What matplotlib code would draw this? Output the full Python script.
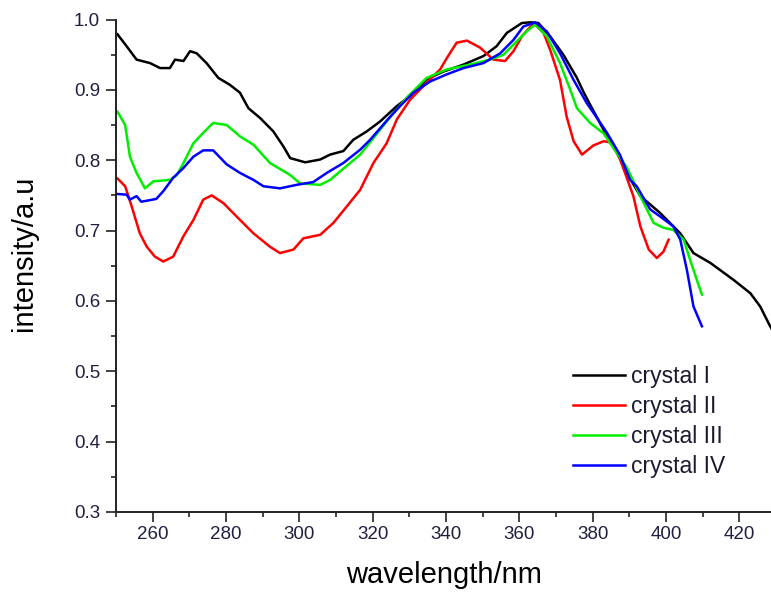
import numpy as np
import matplotlib
matplotlib.use('Agg')
import matplotlib.pyplot as plt
from matplotlib.ticker import MultipleLocator

plt.rcParams['font.family'] = ['Liberation Sans', 'DejaVu Sans']

# absorption spectra, wavelength (nm) vs normalised intensity
wl_1 = [250.4, 252.9, 255.6, 259.3, 262.0, 264.7, 266.1, 268.4, 270.2, 272.0,
        274.7, 277.9, 281.1, 283.8, 286.1, 289.3, 292.9, 295.6, 297.5, 301.6,
        305.7, 308.4, 312.0, 314.7, 318.4, 322.0, 326.6, 330.2, 334.7, 339.3,
        344.8, 350.2, 353.8, 356.6, 360.7, 363.0, 365.2, 368.4, 372.0, 375.7,
        377.5, 379.3, 383.0, 386.6, 389.3, 393.0, 398.4, 403.9, 407.5, 412.1,
        418.4, 423.0, 425.7, 428.4, 430.0]
int_1 = [0.979, 0.962, 0.943, 0.938, 0.931, 0.931, 0.943, 0.941, 0.955, 0.952,
         0.938, 0.917, 0.907, 0.896, 0.874, 0.860, 0.841, 0.820, 0.803, 0.797,
         0.801, 0.808, 0.813, 0.829, 0.841, 0.855, 0.877, 0.891, 0.915, 0.926,
         0.936, 0.948, 0.962, 0.981, 0.995, 0.996, 0.995, 0.976, 0.950, 0.917,
         0.897, 0.879, 0.843, 0.812, 0.782, 0.749, 0.725, 0.696, 0.668, 0.654,
         0.630, 0.611, 0.592, 0.564, 0.550]

wl_2 = [250.4, 252.5, 254.3, 256.5, 258.4, 260.6, 262.9, 265.6, 268.4, 271.1,
        273.8, 276.1, 279.3, 282.9, 287.5, 292.0, 294.7, 298.4, 301.1, 305.7,
        309.3, 312.9, 316.6, 320.2, 323.8, 326.6, 330.2, 334.7, 338.4, 340.2,
        342.9, 345.7, 349.3, 352.9, 356.1, 358.4, 360.7, 363.9, 366.6, 368.4,
        371.1, 372.9, 374.8, 377.1, 380.2, 383.0, 385.2, 387.5, 389.3, 391.1,
        393.0, 395.3, 397.5, 399.3, 400.7]
int_2 = [0.774, 0.763, 0.734, 0.696, 0.677, 0.663, 0.656, 0.663, 0.692, 0.715,
         0.744, 0.750, 0.739, 0.720, 0.696, 0.677, 0.668, 0.673, 0.689, 0.694,
         0.711, 0.734, 0.758, 0.796, 0.824, 0.858, 0.886, 0.910, 0.929, 0.945,
         0.967, 0.970, 0.960, 0.943, 0.941, 0.955, 0.976, 0.995, 0.981, 0.957,
         0.914, 0.862, 0.827, 0.808, 0.821, 0.827, 0.825, 0.801, 0.775, 0.749,
         0.706, 0.673, 0.661, 0.670, 0.687]

wl_3 = [250.4, 252.5, 253.8, 255.6, 257.9, 260.2, 264.7, 266.6, 268.4, 271.1,
        273.8, 276.5, 280.2, 283.8, 287.5, 292.0, 297.5, 300.2, 305.7, 308.4,
        311.1, 316.6, 323.8, 329.3, 334.7, 340.2, 346.6, 352.0, 355.7, 359.3,
        362.0, 364.3, 367.5, 371.1, 373.9, 375.7, 379.3, 383.0, 386.6, 389.3,
        393.0, 396.6, 399.3, 402.0, 404.8, 406.6, 408.4, 409.8]
int_3 = [0.869, 0.850, 0.805, 0.782, 0.760, 0.770, 0.772, 0.779, 0.796, 0.824,
         0.839, 0.853, 0.850, 0.834, 0.822, 0.796, 0.779, 0.767, 0.765, 0.772,
         0.784, 0.808, 0.855, 0.889, 0.917, 0.929, 0.936, 0.943, 0.950, 0.969,
         0.983, 0.993, 0.976, 0.938, 0.900, 0.874, 0.853, 0.838, 0.810, 0.790,
         0.749, 0.711, 0.704, 0.701, 0.687, 0.658, 0.630, 0.609]

wl_4 = [250.4, 252.9, 253.8, 255.6, 256.9, 261.0, 262.9, 265.6, 268.4, 271.1,
        273.8, 276.5, 280.2, 283.8, 287.5, 290.2, 294.7, 299.3, 303.8, 307.5,
        312.0, 316.6, 319.3, 324.8, 327.5, 331.1, 335.7, 340.2, 344.8, 350.2,
        354.8, 358.4, 361.1, 364.3, 367.5, 371.1, 374.8, 378.4, 381.2, 383.9,
        387.5, 390.2, 392.0, 395.7, 398.4, 402.0, 403.9, 405.7, 407.5, 409.8]
int_4 = [0.752, 0.751, 0.744, 0.749, 0.741, 0.745, 0.756, 0.775, 0.789, 0.805,
         0.814, 0.814, 0.794, 0.782, 0.772, 0.763, 0.760, 0.765, 0.769, 0.782,
         0.796, 0.815, 0.829, 0.862, 0.877, 0.896, 0.912, 0.922, 0.931, 0.938,
         0.952, 0.971, 0.990, 0.996, 0.983, 0.952, 0.914, 0.881, 0.860, 0.839,
         0.807, 0.772, 0.763, 0.730, 0.720, 0.706, 0.687, 0.644, 0.592, 0.564]

labels = ['crystal I', 'crystal II', 'crystal III', 'crystal IV']
colors = ['#000000', '#ff0000', '#00ee00', '#0000ff']
series = [(wl_1, int_1), (wl_2, int_2), (wl_3, int_3), (wl_4, int_4)]

fig = plt.figure(figsize=(7.71, 5.94), dpi=100)
# axis runs a little past the right edge of the figure
ax = fig.add_axes([116/771, 82/594, 660/771, 492.5/594])

for (x, y), lab, c in zip(series, labels, colors):
    ax.plot(x, y, color=c, lw=1.8, label=lab)

ax.set_xlim(250, 430)
ax.set_ylim(0.3, 1.0)
ax.xaxis.set_minor_locator(MultipleLocator(10))
ax.yaxis.set_major_locator(MultipleLocator(0.1))
ax.yaxis.set_minor_locator(MultipleLocator(0.05))
ax.set_xticks(np.arange(260, 431, 20))
ax.yaxis.set_major_formatter(matplotlib.ticker.FormatStrFormatter('%.1f'))

for side in ['top', 'right']:
    ax.spines[side].set_visible(False)
for side in ['left', 'bottom']:
    ax.spines[side].set_linewidth(1.4)
    ax.spines[side].set_color('#222222')

tick_col = '#1f1f3f'
ax.tick_params(which='major', direction='out', length=7, width=1.2,
               labelsize=13.5, labelcolor=tick_col, color='#222222')
ax.tick_params(which='minor', direction='out', length=3.6, width=1.2,
               color='#222222')
ax.tick_params(axis='x', which='major', pad=3.0)
ax.tick_params(axis='y', which='major', pad=4.5)

ax.set_xlabel('wavelength/nm', fontsize=21)
ax.set_ylabel('intensity/a.u', fontsize=21)
ax.xaxis.set_label_coords(0.497, -0.10)
ax.yaxis.set_label_coords(-0.118, 0.526)

fig.legend(loc='upper left', bbox_to_anchor=(573/771, 1 - 365/594),
           frameon=False, fontsize=16.5, handlelength=2.26,
           handletextpad=0.26, labelspacing=0.3, borderpad=0,
           borderaxespad=0, labelcolor='#1c1c30')

fig.savefig('out.png', dpi=100)
